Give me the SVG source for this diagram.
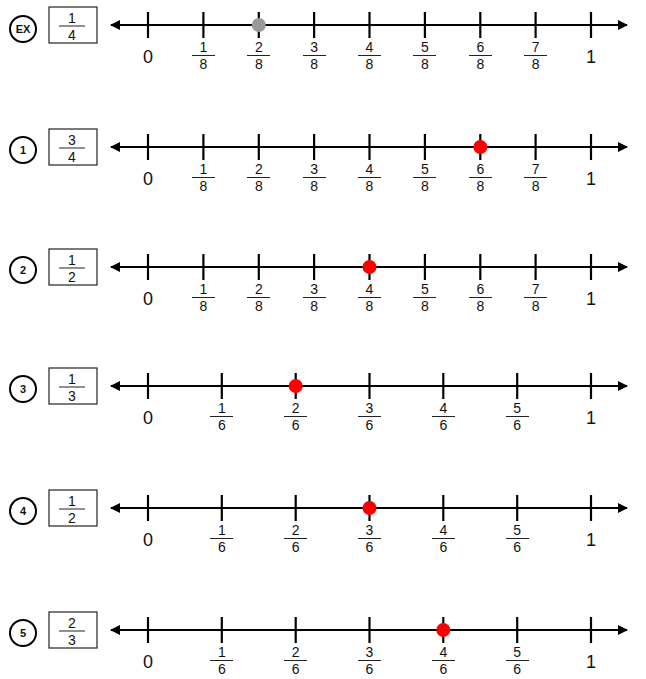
<svg xmlns="http://www.w3.org/2000/svg" width="646" height="679" viewBox="0 0 646 679">
<style>
text{font-family:"Liberation Sans","Open Sans",sans-serif;fill:#111;text-anchor:middle}
.ax{stroke:#000;stroke-width:2.2;fill:none}
.tk{stroke:#000;stroke-width:2.2}
.fb{stroke:#222;stroke-width:1}
.f{font-size:14px}
.w{font-size:18px}
.box{fill:#fff;stroke:#222;stroke-width:1.2}
.badge{fill:#fff;stroke:#000;stroke-width:2}
.bt{font-size:11px;font-weight:bold}
.red{fill:#f00}
.gray{fill:#999}
</style>
<defs>
<marker id="ah" markerWidth="10" markerHeight="10" refX="9" refY="5" orient="auto-start-reverse" markerUnits="userSpaceOnUse">
<path d="M0,0 L10,5 L0,10 Z" fill="#000"/>
</marker>
</defs>

<!-- Row EX -->
<g id="rowEX" transform="translate(0,25)">
<g id="badgeEX"><circle class="badge" cx="23" cy="4" r="13"/><text class="bt" x="23" y="8">EX</text></g>
<g id="boxEX"><rect class="box" x="49" y="-18" width="48" height="36"/><text class="f" x="72" y="-2">1</text><line class="fb" x1="59" y1="1" x2="85" y2="1"/><text class="f" x="72" y="15">4</text></g>
<line class="ax" x1="111" y1="0" x2="627" y2="0" marker-start="url(#ah)" marker-end="url(#ah)"/>
<g class="tk"><line x1="148" y1="-13" x2="148" y2="13"/><line x1="203.4" y1="-13" x2="203.4" y2="13"/><line x1="258.8" y1="-13" x2="258.8" y2="13"/><line x1="314.1" y1="-13" x2="314.1" y2="13"/><line x1="369.5" y1="-13" x2="369.5" y2="13"/><line x1="424.9" y1="-13" x2="424.9" y2="13"/><line x1="480.3" y1="-13" x2="480.3" y2="13"/><line x1="535.6" y1="-13" x2="535.6" y2="13"/><line x1="591" y1="-13" x2="591" y2="13"/></g>
<text class="w" x="148" y="38">0</text><text class="w" x="591" y="38">1</text>
<g class="f"><text x="203.4" y="27">1</text><text x="203.4" y="44">8</text><text x="258.8" y="27">2</text><text x="258.8" y="44">8</text><text x="314.1" y="27">3</text><text x="314.1" y="44">8</text><text x="369.5" y="27">4</text><text x="369.5" y="44">8</text><text x="424.9" y="27">5</text><text x="424.9" y="44">8</text><text x="480.3" y="27">6</text><text x="480.3" y="44">8</text><text x="535.6" y="27">7</text><text x="535.6" y="44">8</text></g>
<g class="fb"><line x1="192" y1="30.5" x2="215" y2="30.5"/><line x1="247" y1="30.5" x2="270" y2="30.5"/><line x1="303" y1="30.5" x2="326" y2="30.5"/><line x1="358" y1="30.5" x2="381" y2="30.5"/><line x1="413" y1="30.5" x2="436" y2="30.5"/><line x1="469" y1="30.5" x2="492" y2="30.5"/><line x1="524" y1="30.5" x2="547" y2="30.5"/></g>
<circle class="gray" cx="258.8" cy="0" r="7"/>
</g>

<!-- Row 1 -->
<g id="row1" transform="translate(0,147)">
<g id="badge1"><circle class="badge" cx="23" cy="3" r="13"/><text class="bt" x="23" y="7">1</text></g>
<g id="box1"><rect class="box" x="49" y="-18" width="48" height="36"/><text class="f" x="72" y="-2">3</text><line class="fb" x1="59" y1="1" x2="85" y2="1"/><text class="f" x="72" y="15">4</text></g>
<line class="ax" x1="111" y1="0" x2="627" y2="0" marker-start="url(#ah)" marker-end="url(#ah)"/>
<g class="tk"><line x1="148" y1="-13" x2="148" y2="13"/><line x1="203.4" y1="-13" x2="203.4" y2="13"/><line x1="258.8" y1="-13" x2="258.8" y2="13"/><line x1="314.1" y1="-13" x2="314.1" y2="13"/><line x1="369.5" y1="-13" x2="369.5" y2="13"/><line x1="424.9" y1="-13" x2="424.9" y2="13"/><line x1="480.3" y1="-13" x2="480.3" y2="13"/><line x1="535.6" y1="-13" x2="535.6" y2="13"/><line x1="591" y1="-13" x2="591" y2="13"/></g>
<text class="w" x="148" y="38">0</text><text class="w" x="591" y="38">1</text>
<g class="f"><text x="203.4" y="27">1</text><text x="203.4" y="44">8</text><text x="258.8" y="27">2</text><text x="258.8" y="44">8</text><text x="314.1" y="27">3</text><text x="314.1" y="44">8</text><text x="369.5" y="27">4</text><text x="369.5" y="44">8</text><text x="424.9" y="27">5</text><text x="424.9" y="44">8</text><text x="480.3" y="27">6</text><text x="480.3" y="44">8</text><text x="535.6" y="27">7</text><text x="535.6" y="44">8</text></g>
<g class="fb"><line x1="192" y1="30.5" x2="215" y2="30.5"/><line x1="247" y1="30.5" x2="270" y2="30.5"/><line x1="303" y1="30.5" x2="326" y2="30.5"/><line x1="358" y1="30.5" x2="381" y2="30.5"/><line x1="413" y1="30.5" x2="436" y2="30.5"/><line x1="469" y1="30.5" x2="492" y2="30.5"/><line x1="524" y1="30.5" x2="547" y2="30.5"/></g>
<circle class="red" cx="480.3" cy="0" r="7"/>
</g>

<!-- Row 2 -->
<g id="row2" transform="translate(0,267)">
<g id="badge2"><circle class="badge" cx="23" cy="3" r="13"/><text class="bt" x="23" y="7">2</text></g>
<g id="box2"><rect class="box" x="49" y="-18" width="48" height="36"/><text class="f" x="72" y="-2">1</text><line class="fb" x1="59" y1="1" x2="85" y2="1"/><text class="f" x="72" y="15">2</text></g>
<line class="ax" x1="111" y1="0" x2="627" y2="0" marker-start="url(#ah)" marker-end="url(#ah)"/>
<g class="tk"><line x1="148" y1="-13" x2="148" y2="13"/><line x1="203.4" y1="-13" x2="203.4" y2="13"/><line x1="258.8" y1="-13" x2="258.8" y2="13"/><line x1="314.1" y1="-13" x2="314.1" y2="13"/><line x1="369.5" y1="-13" x2="369.5" y2="13"/><line x1="424.9" y1="-13" x2="424.9" y2="13"/><line x1="480.3" y1="-13" x2="480.3" y2="13"/><line x1="535.6" y1="-13" x2="535.6" y2="13"/><line x1="591" y1="-13" x2="591" y2="13"/></g>
<text class="w" x="148" y="38">0</text><text class="w" x="591" y="38">1</text>
<g class="f"><text x="203.4" y="27">1</text><text x="203.4" y="44">8</text><text x="258.8" y="27">2</text><text x="258.8" y="44">8</text><text x="314.1" y="27">3</text><text x="314.1" y="44">8</text><text x="369.5" y="27">4</text><text x="369.5" y="44">8</text><text x="424.9" y="27">5</text><text x="424.9" y="44">8</text><text x="480.3" y="27">6</text><text x="480.3" y="44">8</text><text x="535.6" y="27">7</text><text x="535.6" y="44">8</text></g>
<g class="fb"><line x1="192" y1="30.5" x2="215" y2="30.5"/><line x1="247" y1="30.5" x2="270" y2="30.5"/><line x1="303" y1="30.5" x2="326" y2="30.5"/><line x1="358" y1="30.5" x2="381" y2="30.5"/><line x1="413" y1="30.5" x2="436" y2="30.5"/><line x1="469" y1="30.5" x2="492" y2="30.5"/><line x1="524" y1="30.5" x2="547" y2="30.5"/></g>
<circle class="red" cx="369.5" cy="0" r="7"/>
</g>

<!-- Row 3 -->
<g id="row3" transform="translate(0,386)">
<g id="badge3"><circle class="badge" cx="23" cy="3" r="13"/><text class="bt" x="23" y="7">3</text></g>
<g id="box3"><rect class="box" x="49" y="-18" width="48" height="36"/><text class="f" x="72" y="-2">1</text><line class="fb" x1="59" y1="1" x2="85" y2="1"/><text class="f" x="72" y="15">3</text></g>
<line class="ax" x1="111" y1="0" x2="627" y2="0" marker-start="url(#ah)" marker-end="url(#ah)"/>
<g class="tk"><line x1="148" y1="-13" x2="148" y2="13"/><line x1="221.8" y1="-13" x2="221.8" y2="13"/><line x1="295.7" y1="-13" x2="295.7" y2="13"/><line x1="369.5" y1="-13" x2="369.5" y2="13"/><line x1="443.3" y1="-13" x2="443.3" y2="13"/><line x1="517.2" y1="-13" x2="517.2" y2="13"/><line x1="591" y1="-13" x2="591" y2="13"/></g>
<text class="w" x="148" y="38">0</text><text class="w" x="591" y="38">1</text>
<g class="f"><text x="221.8" y="27">1</text><text x="221.8" y="44">6</text><text x="295.7" y="27">2</text><text x="295.7" y="44">6</text><text x="369.5" y="27">3</text><text x="369.5" y="44">6</text><text x="443.3" y="27">4</text><text x="443.3" y="44">6</text><text x="517.2" y="27">5</text><text x="517.2" y="44">6</text></g>
<g class="fb"><line x1="210" y1="30.5" x2="233" y2="30.5"/><line x1="284" y1="30.5" x2="307" y2="30.5"/><line x1="358" y1="30.5" x2="381" y2="30.5"/><line x1="432" y1="30.5" x2="455" y2="30.5"/><line x1="506" y1="30.5" x2="529" y2="30.5"/></g>
<circle class="red" cx="295.7" cy="0" r="7"/>
</g>

<!-- Row 4 -->
<g id="row4" transform="translate(0,508)">
<g id="badge4"><circle class="badge" cx="23" cy="3" r="13"/><text class="bt" x="23" y="7">4</text></g>
<g id="box4"><rect class="box" x="49" y="-18" width="48" height="36"/><text class="f" x="72" y="-2">1</text><line class="fb" x1="59" y1="1" x2="85" y2="1"/><text class="f" x="72" y="15">2</text></g>
<line class="ax" x1="111" y1="0" x2="627" y2="0" marker-start="url(#ah)" marker-end="url(#ah)"/>
<g class="tk"><line x1="148" y1="-13" x2="148" y2="13"/><line x1="221.8" y1="-13" x2="221.8" y2="13"/><line x1="295.7" y1="-13" x2="295.7" y2="13"/><line x1="369.5" y1="-13" x2="369.5" y2="13"/><line x1="443.3" y1="-13" x2="443.3" y2="13"/><line x1="517.2" y1="-13" x2="517.2" y2="13"/><line x1="591" y1="-13" x2="591" y2="13"/></g>
<text class="w" x="148" y="38">0</text><text class="w" x="591" y="38">1</text>
<g class="f"><text x="221.8" y="27">1</text><text x="221.8" y="44">6</text><text x="295.7" y="27">2</text><text x="295.7" y="44">6</text><text x="369.5" y="27">3</text><text x="369.5" y="44">6</text><text x="443.3" y="27">4</text><text x="443.3" y="44">6</text><text x="517.2" y="27">5</text><text x="517.2" y="44">6</text></g>
<g class="fb"><line x1="210" y1="30.5" x2="233" y2="30.5"/><line x1="284" y1="30.5" x2="307" y2="30.5"/><line x1="358" y1="30.5" x2="381" y2="30.5"/><line x1="432" y1="30.5" x2="455" y2="30.5"/><line x1="506" y1="30.5" x2="529" y2="30.5"/></g>
<circle class="red" cx="369.5" cy="0" r="7"/>
</g>

<!-- Row 5 -->
<g id="row5" transform="translate(0,630)">
<g id="badge5"><circle class="badge" cx="23" cy="3" r="13"/><text class="bt" x="23" y="7">5</text></g>
<g id="box5"><rect class="box" x="49" y="-18" width="48" height="36"/><text class="f" x="72" y="-2">2</text><line class="fb" x1="59" y1="1" x2="85" y2="1"/><text class="f" x="72" y="15">3</text></g>
<line class="ax" x1="111" y1="0" x2="627" y2="0" marker-start="url(#ah)" marker-end="url(#ah)"/>
<g class="tk"><line x1="148" y1="-13" x2="148" y2="13"/><line x1="221.8" y1="-13" x2="221.8" y2="13"/><line x1="295.7" y1="-13" x2="295.7" y2="13"/><line x1="369.5" y1="-13" x2="369.5" y2="13"/><line x1="443.3" y1="-13" x2="443.3" y2="13"/><line x1="517.2" y1="-13" x2="517.2" y2="13"/><line x1="591" y1="-13" x2="591" y2="13"/></g>
<text class="w" x="148" y="38">0</text><text class="w" x="591" y="38">1</text>
<g class="f"><text x="221.8" y="27">1</text><text x="221.8" y="44">6</text><text x="295.7" y="27">2</text><text x="295.7" y="44">6</text><text x="369.5" y="27">3</text><text x="369.5" y="44">6</text><text x="443.3" y="27">4</text><text x="443.3" y="44">6</text><text x="517.2" y="27">5</text><text x="517.2" y="44">6</text></g>
<g class="fb"><line x1="210" y1="30.5" x2="233" y2="30.5"/><line x1="284" y1="30.5" x2="307" y2="30.5"/><line x1="358" y1="30.5" x2="381" y2="30.5"/><line x1="432" y1="30.5" x2="455" y2="30.5"/><line x1="506" y1="30.5" x2="529" y2="30.5"/></g>
<circle class="red" cx="443.3" cy="0" r="7"/>
</g>
</svg>
